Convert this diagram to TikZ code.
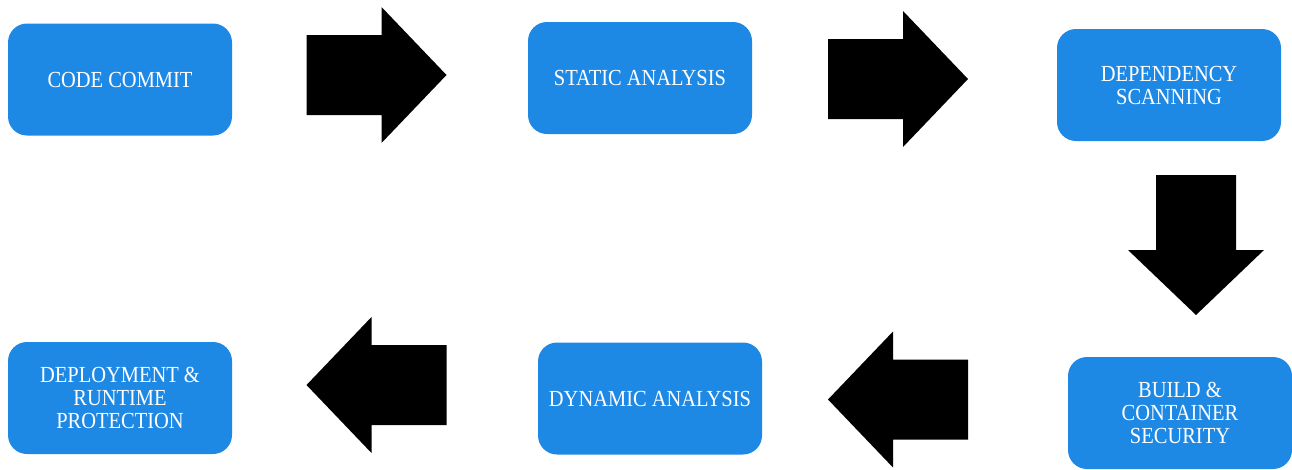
\documentclass[tikz,border=0pt]{standalone}
\usepackage{fontspec}
\setmainfont{Liberation Serif}[FakeStretch=0.89]
\usepackage{tikz}
\usetikzlibrary{positioning}
\definecolor{stageblue}{HTML}{1E88E5}

\tikzset{
  stage/.style={rectangle,rounded corners=19pt,fill=stageblue,text=white,
    minimum width=224pt,minimum height=112pt,align=center,inner sep=2pt,
    font=\fontsize{23}{23}\selectfont},
  bigarrow/.pic={\fill[black] (-70,-40)--(5,-40)--(5,-68)--(70,0)--(5,68)--(5,40)--(-70,40)--cycle;}
}

\begin{document}
\begin{tikzpicture}[x=1pt,y=-1pt]
  \useasboundingbox (0,0) rectangle (1292,469);
  % pipeline stages
  \node[stage] (commit)  at (120,79.5) {CODE COMMIT};
  \node[stage] (static)  at (640,78)   {STATIC ANALYSIS};
  \node[stage] (depscan) at (1169,85)  {DEPENDENCY\\SCANNING};
  \node[stage] (build)   at (1180,413) {BUILD \&\\CONTAINER\\SECURITY};
  \node[stage] (dynamic) at (650,398.5) {DYNAMIC ANALYSIS};
  \node[stage] (deploy)  at (120,398)  {DEPLOYMENT \&\\RUNTIME\\PROTECTION};
  % block arrows between stages
  \pic (a1) at (376.5,75) {bigarrow};
  \pic (a2) at (898,79) {bigarrow};
  \pic[rotate=-90] (a3) at (1196,245) {bigarrow};
  \pic[rotate=180] (a4) at (898,399.5) {bigarrow};
  \pic[rotate=180] (a5) at (376.5,385) {bigarrow};
\end{tikzpicture}
\end{document}
